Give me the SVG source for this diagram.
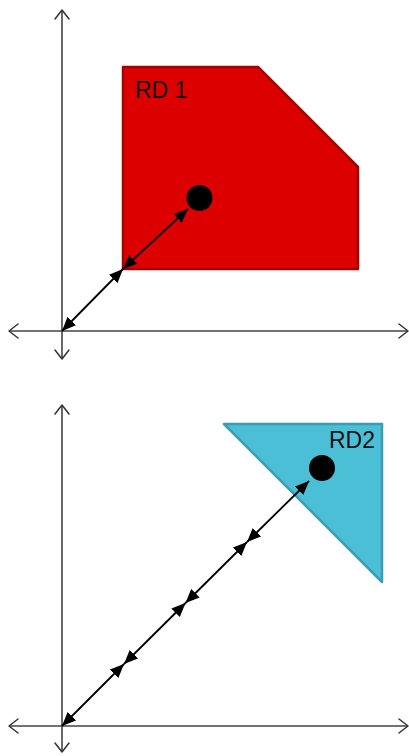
<svg xmlns="http://www.w3.org/2000/svg" width="409" height="756" viewBox="0 0 409 756">
<style>
.axis{stroke:#444;stroke-width:1.6;fill:none}
.chev{stroke:#333;stroke-width:1.5;fill:none;stroke-linecap:round;stroke-linejoin:round}
.conn{stroke:#000;stroke-width:1.8;fill:none;marker-start:url(#ah);marker-end:url(#ah)}
.lbl{font-family:"Liberation Sans",Arial,sans-serif;font-size:23px;fill:#111}
</style>
<defs>
<marker id="ah" viewBox="0 0 10 10" refX="10" refY="5" markerWidth="14" markerHeight="12" markerUnits="userSpaceOnUse" orient="auto-start-reverse" preserveAspectRatio="none">
<path d="M0,0 L10,5 L0,10 Z" fill="#000"/>
</marker>
</defs>
<g id="axes1">
<line class="axis" x1="62" y1="10" x2="62" y2="359"/>
<line class="axis" x1="9" y1="331" x2="408" y2="331"/>
<path class="chev" d="M55,19 L62,10 L69,19"/>
<path class="chev" d="M55,350 L62,359 L69,350"/>
<path class="chev" d="M18,324 L9,331 L18,338"/>
<path class="chev" d="M399,324 L408,331 L399,338"/>
</g>
<g id="rd1">
<polygon points="123,67 258,67 358,167 358,269 123,269" fill="#dd0000" stroke="#a80000" stroke-width="2.5" stroke-linejoin="round"/>
<text class="lbl" x="135" y="98">RD 1</text>
</g>
<g id="point1"><circle cx="199.5" cy="198" r="13" fill="#000"/></g>
<g id="connectors1">
<line class="conn" x1="62" y1="331" x2="123" y2="269"/>
<line class="conn" x1="123" y1="269" x2="188" y2="209"/>
</g>
<g id="axes2">
<line class="axis" x1="62" y1="405" x2="62" y2="752"/>
<line class="axis" x1="9" y1="726" x2="408" y2="726"/>
<path class="chev" d="M55,414 L62,405 L69,414"/>
<path class="chev" d="M55,743 L62,752 L69,743"/>
<path class="chev" d="M18,719 L9,726 L18,733"/>
<path class="chev" d="M399,719 L408,726 L399,733"/>
</g>
<g id="rd2">
<polygon points="224,424 382,424 382,582" fill="#4bbfd6" stroke="#3a9db3" stroke-width="2.5" stroke-linejoin="round"/>
<text class="lbl" x="329" y="448">RD2</text>
</g>
<g id="point2"><circle cx="322" cy="468" r="13" fill="#000"/></g>
<g id="connectors2">
<line class="conn" x1="62" y1="726" x2="124" y2="664"/>
<line class="conn" x1="124" y1="664" x2="185.5" y2="603"/>
<line class="conn" x1="185.5" y1="603" x2="247" y2="542"/>
<line class="conn" x1="247" y1="542" x2="309" y2="481"/>
</g>
</svg>
